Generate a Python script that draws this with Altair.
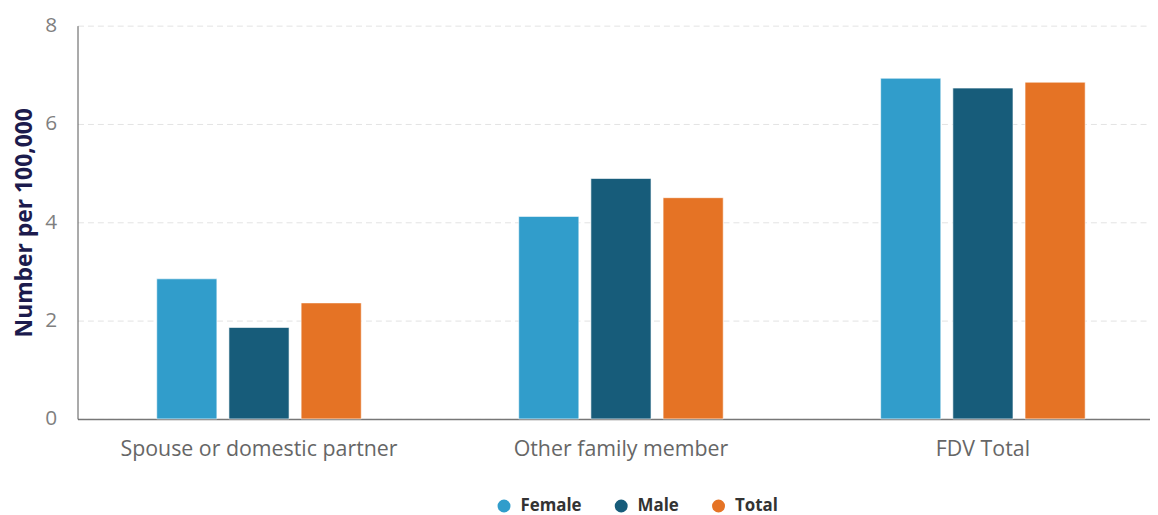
import altair as alt
import pandas as pd

categories = ["Spouse or domestic partner", "Other family member", "FDV Total"]
series = ["Female", "Male", "Total"]
female = [2.85, 4.12, 6.93]
male = [1.86, 4.89, 6.73]
total = [2.36, 4.50, 6.85]
colors = ["#319DCB", "#175C7A", "#E57325"]

rows = []
for i, c in enumerate(categories):
    for s, vals in zip(series, [female, male, total]):
        rows.append({"category": c, "sex": s, "value": vals[i]})
df = pd.DataFrame(rows)

FONT = "Open Sans"

chart = alt.Chart(df).mark_bar(stroke="white", strokeWidth=1, strokeOpacity=0.6).encode(
    x=alt.X("category:N", sort=categories,
            scale=alt.Scale(paddingInner=0.435, paddingOuter=0.199, align=0.55),
            axis=alt.Axis(title=None, labelAngle=0, labelFontSize=21.5, labelColor="#666666",
                          labelFont=FONT, labelPadding=20, ticks=False, labelLimit=0,
                          domainColor="#777777", domainWidth=1.5, grid=False)),
    xOffset=alt.XOffset("sex:N", sort=series,
                        scale=alt.Scale(paddingInner=0.167, paddingOuter=0)),
    y=alt.Y("value:Q", scale=alt.Scale(domain=[0, 8]),
            axis=alt.Axis(title="Number per 100,000", values=[0, 2, 4, 6, 8],
                          titleFontSize=23, titleFontWeight="bold", titleColor="#1c1b4d",
                          titleFont=FONT, titlePadding=8,
                          labelFontSize=21, labelColor="#7f7f7f", labelFont=FONT,
                          labelPadding=21, ticks=False,
                          domainColor="#555555", domainWidth=1,
                          grid=True, gridColor="#e3e3e3", gridDash=[6, 4], gridWidth=1)),
    color=alt.Color("sex:N", sort=series,
                    scale=alt.Scale(domain=series, range=colors),
                    legend=alt.Legend(title=None, orient="none", direction="horizontal",
                                      legendX=421, legendY=475,
                                      symbolType="circle", symbolSize=170,
                                      symbolStrokeWidth=0,
                                      labelFontSize=17, labelFontWeight="bold",
                                      labelColor="#333333", labelFont=FONT,
                                      labelOffset=8, columnPadding=31)),
).properties(
    width=1080, height=396,
    padding={"left": 70, "top": 16, "right": 0, "bottom": 95},
    autosize=alt.AutoSizeParams(type="none"),
).configure_view(stroke=None)

chart.save("out.html", embed_options={"renderer": "svg", "actions": False})
